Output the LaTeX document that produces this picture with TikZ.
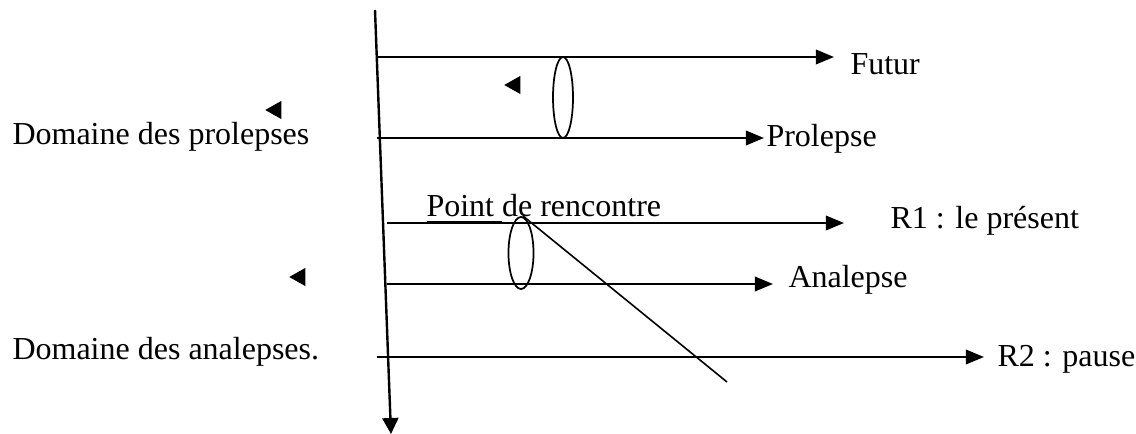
\documentclass[tikz,border=0pt]{standalone}
\usepackage{fontspec}
\setmainfont{Liberation Serif}
\usetikzlibrary{arrows.meta,shapes.geometric}
\tikzset{
  timeline/.style={-{Triangle[length=6.8pt,width=5.4pt]},line width=0.9pt,draw=black},
  axisline/.style={-{Triangle[length=6pt,width=6pt]},line width=0.9pt,draw=black},
  crossline/.style={line width=0.6pt,draw=black},
  span/.style={ellipse,draw=black,line width=0.65pt,inner sep=0pt},
  tag/.style={anchor=base west,inner sep=0pt},
  stray/.style={isosceles triangle,isosceles triangle stretches,fill=black,
    shape border rotate=180,inner sep=0pt,minimum width=6.8pt,minimum height=6pt}
}
\begin{document}
\begin{tikzpicture}[x=0.375pt,y=-0.375pt,font=\fontsize{12}{14}\selectfont]
  \useasboundingbox (0,0) rectangle (1136,434);
  % time axis
  \coordinate (axtop) at (375,10);
  \coordinate (axbot) at (391,434);
  \draw[axisline] (axtop) -- (axbot);
  % left labels
  \node[tag] (dpro) at (12,145) {Domaine des prolepses};
  \node[tag] (dana) at (12,360) {Domaine des analepses.};
  % horizontal lines
  \coordinate (futs) at (378,57);  \coordinate (fute) at (834,57);
  \coordinate (pros) at (377,138); \coordinate (proe) at (764,138);
  \coordinate (r1s) at (387,223);  \coordinate (r1e) at (844,223);
  \coordinate (anas) at (387,284); \coordinate (anae) at (773,284);
  \coordinate (r2s) at (377,357);  \coordinate (r2e) at (984,357);
  \draw[timeline] (futs) -- (fute);
  \draw[timeline] (pros) -- (proe);
  \draw[timeline] (r1s) -- (r1e);
  \draw[timeline] (anas) -- (anae);
  \draw[timeline] (r2s) -- (r2e);
  \node[tag] (futur) at (850,75) {Futur};
  \node[tag] (prolepse) at (766,147) {Prolepse};
  \node[tag] (present) at (890,229) {R1 : le présent};
  \node[tag] (analepse) at (788,288) {Analepse};
  \node[tag] (pause) at (997,367) {R2 : pause};
  \node[tag] (meetlbl) at (426,217) {\underline{Point }de rencontre};
  % ellipses
  \node[span,minimum width=7.5pt,minimum height=30.4pt] (eupper) at (563,97.5) {};
  \node[span,minimum width=9.4pt,minimum height=27pt] (elower) at (521,253) {};
  % crossing line
  \coordinate (meet) at (523,216);
  \coordinate (cutend) at (727,382);
  \draw[crossline] (meet) -- (cutend);
  % stray heads
  \node[stray] (s1) at (515,85) {};
  \node[stray] (s2) at (276,110) {};
  \node[stray] (s3) at (300,277) {};
\end{tikzpicture}
\end{document}
